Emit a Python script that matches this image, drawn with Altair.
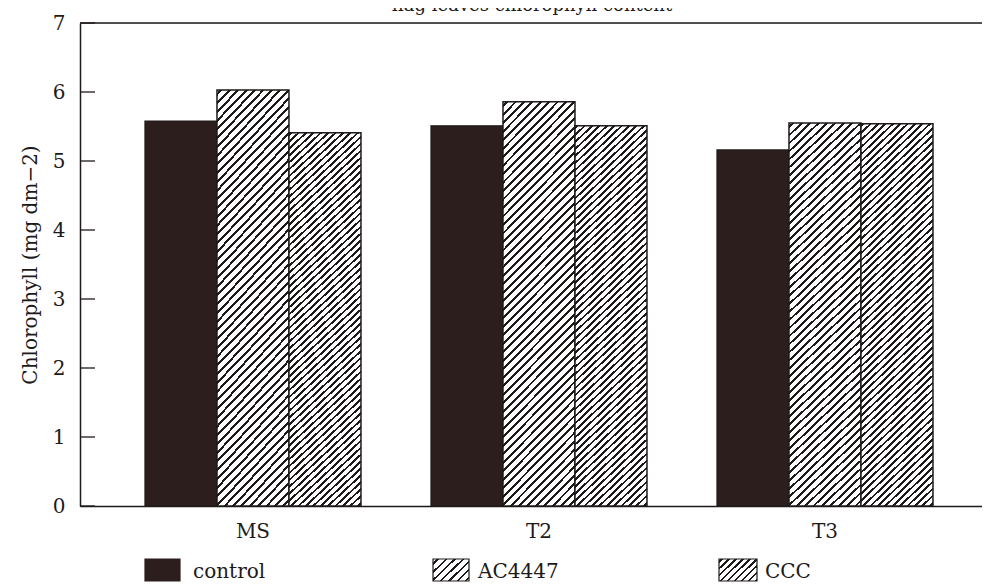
import math
import altair as alt
import pandas as pd

# ---- data ----
groups = ["MS", "T2", "T3"]
series = ["control", "AC4447", "CCC"]
control = [5.58, 5.51, 5.16]
ac4447 = [6.03, 5.86, 5.55]
ccc = [5.41, 5.51, 5.54]
y_ticks = [0, 1, 2, 3, 4, 5, 6, 7]
title_text = "flag leaves chlorophyll content"
y_title = "Chlorophyll (mg dm\u22122)"

rows = []
for s, vals in zip(series, [control, ac4447, ccc]):
    for g, v in zip(groups, vals):
        rows.append({"group": g, "series": s, "value": v})
df = pd.DataFrame(rows)
ticks_df = pd.DataFrame({"value": y_ticks})

FONT = "DejaVu Serif"
INK = "#1e1a1a"
DARK = "#2d1e1e"


def hatch(w, h, period, dark, phase=0.0):
    """Diagonal '/' hatch as a hard-stop linear gradient (bbox units)."""
    L = w + h
    c = L / (w * w + h * h)
    stops = []
    k = 0
    while True:
        a = (k * period + phase) / L
        b = (k * period + phase + dark) / L
        if a > 1:
            break
        a = max(0.0, min(1.0, a))
        b = max(0.0, min(1.0, b))
        stops += [
            {"offset": a, "color": "white"},
            {"offset": a, "color": INK},
            {"offset": b, "color": INK},
            {"offset": b, "color": "white"},
        ]
        k += 1
    return {"gradient": "linear", "x1": 0, "y1": 0, "x2": w * c, "y2": h * c,
            "stops": stops}


grad_ac = hatch(72, 400, 8.4, 2.9, 3)
grad_ccc = hatch(72, 400, 7.4, 2.8, 1)
grad_ac_leg = hatch(36, 23, 8.4, 2.4, 4)
grad_ccc_leg = hatch(38, 23, 7.0, 2.4, 2)

x_enc = alt.X(
    "group:N", sort=groups,
    scale=alt.Scale(paddingInner=0.2448, paddingOuter=0.1993, align=0.57),
    axis=alt.Axis(title=None, ticks=False, labelAngle=0, labelPadding=15,
                  labelFont=FONT, labelFontSize=20, labelColor=INK,
                  domainColor=INK, domainWidth=1.5),
)
xo_enc = alt.XOffset("series:N", sort=series,
                     scale=alt.Scale(domain=series, paddingInner=0, paddingOuter=0))
y_enc = alt.Y(
    "value:Q", scale=alt.Scale(domain=[0, 7], nice=False, zero=True),
    axis=alt.Axis(values=y_ticks, format="d", tickSize=0, labelPadding=15, grid=False,
                  labelFont=FONT, labelFontSize=20, labelColor=INK,
                  domainColor=INK, domainWidth=1.5,
                  title=y_title, titleFont=FONT, titleFontSize=20,
                  titleFontWeight="normal", titleColor=INK, titlePadding=12),
)

base = alt.Chart(df)
bars_control = base.transform_filter(alt.datum.series == "control").mark_bar(
    fill=DARK, stroke=INK, strokeWidth=1.2
).encode(x=x_enc, xOffset=xo_enc, y=y_enc)
bars_ac = base.transform_filter(alt.datum.series == "AC4447").mark_bar(
    fill=grad_ac, stroke=INK, strokeWidth=1.5
).encode(x=x_enc, xOffset=xo_enc, y=y_enc)
bars_ccc = base.transform_filter(alt.datum.series == "CCC").mark_bar(
    fill=grad_ccc, stroke=INK, strokeWidth=1.5
).encode(x=x_enc, xOffset=xo_enc, y=y_enc)

tick_marks = alt.Chart(ticks_df).mark_rule(color=INK, strokeWidth=1.3).encode(
    y=alt.Y("value:Q"), x=alt.value(0), x2=alt.value(15)
)
top_line = alt.Chart(ticks_df).transform_filter(alt.datum.value == 7).mark_rule(
    color=INK, strokeWidth=1.5
).encode(y=alt.Y("value:Q"), x=alt.value(0), x2=alt.value(910))

title_mark = alt.Chart(ticks_df.head(1)).mark_text(
    font=FONT, fontSize=18, color=INK, align="center", baseline="alphabetic"
).encode(x=alt.value(452), y=alt.value(-12), text=alt.value(title_text))

# ---- legend ----
leg_items = [
    ("control", DARK, 65, 100, 113),
    ("AC4447", grad_ac_leg, 353, 389, 398),
    ("CCC", grad_ccc_leg, 639, 677, 685),
]
legend_layers = []
for name, fill, x0, x1, tx in leg_items:
    legend_layers.append(
        alt.Chart(ticks_df.head(1)).mark_rect(
            fill=fill, stroke=INK if name != "control" else DARK, strokeWidth=1.2
        ).encode(x=alt.value(x0), x2=alt.value(x1), y=alt.value(536), y2=alt.value(558))
    )
    legend_layers.append(
        alt.Chart(ticks_df.head(1)).mark_text(
            font=FONT, fontSize=20, color=INK, align="left", baseline="alphabetic"
        ).encode(x=alt.value(tx), y=alt.value(555), text=alt.value(name))
    )

chart = alt.layer(
    bars_control, bars_ac, bars_ccc, tick_marks, top_line, title_mark, *legend_layers
).properties(
    width=902, height=483,
    autosize=alt.AutoSizeParams(type="none"),
    padding={"left": 72, "top": 15, "right": 0, "bottom": 78},
).configure_view(stroke=None).configure(background="white")

chart.save("out.html", embed_options={"renderer": "svg", "actions": False})
